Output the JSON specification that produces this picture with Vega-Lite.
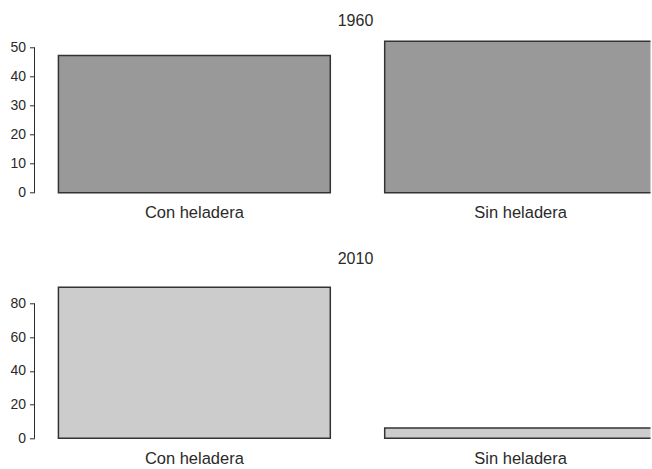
{
  "$schema": "https://vega.github.io/schema/vega-lite/v6.json",
  "background": "white",
  "padding": {"left": 9.5, "top": 13.3, "right": 0, "bottom": 0},
  "config": {
    "font": "Liberation Sans",
    "view": {"stroke": null},
    "axis": {"grid": false, "labelFont": "Liberation Sans", "labelColor": "#2a2a2a", "tickColor": "#2a2a2a", "domain": false},
    "title": {"font": "Liberation Sans", "fontWeight": "normal", "fontSize": 16, "color": "#2a2a2a", "anchor": "middle", "dx": 13}
  },
  "datasets": {
    "shares": [
      {"year": "1960", "categoria": "Con heladera", "porcentaje": 47.3},
      {"year": "1960", "categoria": "Sin heladera", "porcentaje": 52.2},
      {"year": "2010", "categoria": "Con heladera", "porcentaje": 89.7},
      {"year": "2010", "categoria": "Sin heladera", "porcentaje": 6.1}
    ],
    "axislines": [
      {"year": "1960", "lo": 0, "hi": 50, "pos": 0},
      {"year": "2010", "lo": 0, "hi": 80, "pos": 0}
    ]
  },
  "bounds": "flush",
  "spacing": 82,
  "vconcat": [
    {
      "title": {"text": "1960", "offset": 6},
      "width": 616,
      "height": 163.5,
      "resolve": {"scale": {"x": "independent"}, "axis": {"x": "independent"}},
      "layer": [
        {
          "data": {"name": "shares"},
          "transform": [{"filter": "datum.year === '1960'"}],
          "mark": {"type": "bar", "fill": "#999999", "stroke": "#333333", "strokeWidth": 1.5, "clip": true},
          "encoding": {
            "x": {"field": "categoria", "type": "nominal", "sort": null, "title": null,
                  "scale": {"range": [0, 646], "paddingInner": 0.1667, "paddingOuter": 0.0733},
                  "axis": {"ticks": false, "labelPadding": 6, "labelFontSize": 16.5, "labelAngle": 0}},
            "y": {"field": "porcentaje", "type": "quantitative", "title": null,
                  "scale": {"domain": [-2.09, 54.29], "nice": false, "zero": false},
                  "axis": {"values": [0, 10, 20, 30, 40, 50], "tickSize": 5, "labelPadding": 4, "labelFontSize": 14}},
            "y2": {"datum": 0}
          }
        },
        {
          "data": {"name": "axislines"},
          "transform": [{"filter": "datum.year === '1960'"}],
          "mark": {"type": "rule", "color": "#2a2a2a", "strokeWidth": 1},
          "encoding": {
            "x": {"field": "pos", "type": "quantitative", "scale": {"domain": [0, 1]}, "axis": null},
            "y": {"field": "lo", "type": "quantitative", "title": null,
                  "axis": {"values": [0, 10, 20, 30, 40, 50], "tickSize": 5, "labelPadding": 4, "labelFontSize": 14}},
            "y2": {"field": "hi"}
          }
        }
      ]
    },
    {
      "title": {"text": "2010", "offset": 14},
      "width": 616,
      "height": 163,
      "resolve": {"scale": {"x": "independent"}, "axis": {"x": "independent"}},
      "layer": [
        {
          "data": {"name": "shares"},
          "transform": [{"filter": "datum.year === '2010'"}],
          "mark": {"type": "bar", "fill": "#cccccc", "stroke": "#333333", "strokeWidth": 1.5, "clip": true},
          "encoding": {
            "x": {"field": "categoria", "type": "nominal", "sort": null, "title": null,
                  "scale": {"range": [0, 646], "paddingInner": 0.1667, "paddingOuter": 0.0733},
                  "axis": {"ticks": false, "labelPadding": 6, "labelFontSize": 16.5, "labelAngle": 0}},
            "y": {"field": "porcentaje", "type": "quantitative", "title": null,
                  "scale": {"domain": [-3.59, 93.3], "nice": false, "zero": false},
                  "axis": {"values": [0, 20, 40, 60, 80], "tickSize": 5, "labelPadding": 4, "labelFontSize": 14}},
            "y2": {"datum": 0}
          }
        },
        {
          "data": {"name": "axislines"},
          "transform": [{"filter": "datum.year === '2010'"}],
          "mark": {"type": "rule", "color": "#2a2a2a", "strokeWidth": 1},
          "encoding": {
            "x": {"field": "pos", "type": "quantitative", "scale": {"domain": [0, 1]}, "axis": null},
            "y": {"field": "lo", "type": "quantitative", "title": null,
                  "axis": {"values": [0, 20, 40, 60, 80], "tickSize": 5, "labelPadding": 4, "labelFontSize": 14}},
            "y2": {"field": "hi"}
          }
        }
      ]
    }
  ]
}
